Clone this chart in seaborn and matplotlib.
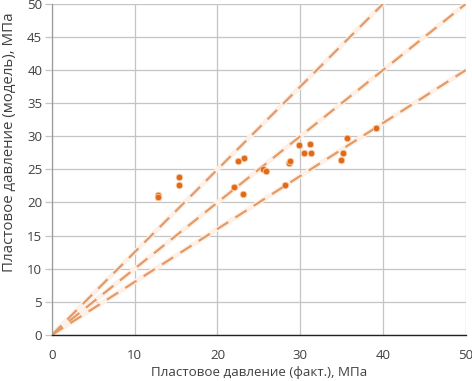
import matplotlib
matplotlib.use("Agg")
import matplotlib.pyplot as plt
import seaborn as sns
import pandas as pd
import numpy as np

# Data
fact = [12.8, 12.8, 15.4, 15.4, 22.0, 22.5, 23.2, 25.5, 25.8, 23.1, 28.1,
        28.6, 28.8, 29.8, 31.2, 30.5, 31.3, 35.6, 35.2, 34.9, 39.2]
model = [21.2, 20.8, 23.8, 22.6, 22.4, 26.2, 26.7, 25.1, 24.8, 21.3, 22.6,
         26.0, 26.2, 28.7, 28.9, 27.5, 27.5, 29.7, 27.4, 26.4, 31.3]
ref_slopes = [1.25, 1.0, 0.8]
ref_x_end = [40, 50, 50]
xticks = [0, 10, 20, 30, 40, 50]
yticks = [0, 5, 10, 15, 20, 25, 30, 35, 40, 45, 50]
xlabel = "Пластовое давление (факт.), МПа"
ylabel = "Пластовое давление (модель), МПа"

sns.set_theme(style="white")
plt.rcParams['font.family'] = ['Open Sans', 'DejaVu Sans']

fig = plt.figure(figsize=(4.72, 3.81), dpi=100)
ax = fig.add_axes([0.110, 0.121, 0.877, 0.869])

rows = []
for i, (k, xe) in enumerate(zip(ref_slopes, ref_x_end)):
    rows.append({"x": 0, "y": 0, "line": i})
    rows.append({"x": xe, "y": k * xe, "line": i})
lines_df = pd.DataFrame(rows)

# faint glow
sns.lineplot(data=lines_df, x="x", y="y", units="line", estimator=None,
             color="#FDF0E6", lw=3.5, ax=ax, legend=False)
sns.lineplot(data=lines_df, x="x", y="y", units="line", estimator=None,
             color="#E59A66", lw=1.6, ax=ax, legend=False,
             dashes=False, linestyle=(0, (6, 3.8)))

pts = pd.DataFrame({"fact": fact, "model": model})
sns.scatterplot(data=pts, x="fact", y="model", color="#E06A1A", s=22,
                edgecolor="#F7C9A3", linewidth=0.6, ax=ax, zorder=5)

ax.set_xlim(0, 50)
ax.set_ylim(0, 50)
ax.set_xticks(xticks)
ax.set_yticks(yticks)
ax.grid(True, color="#C4C4C4", lw=0.9)
ax.set_axisbelow(True)
for s in ["top", "right"]:
    ax.spines[s].set_visible(False)
ax.spines["left"].set_color("#9A9A9A")
ax.spines["left"].set_linewidth(0.9)
ax.spines["bottom"].set_color("#222222")
ax.spines["bottom"].set_linewidth(1.0)
ax.tick_params(axis="y", left=True, length=5, width=0.9, color="#C4C4C4",
               labelsize=9.5, labelcolor="#404040", pad=2)
ax.tick_params(axis="x", bottom=False, labelsize=9.5, labelcolor="#404040", pad=4)
ax.set_xlabel(xlabel, fontsize=9.6, color="#404040", labelpad=3)
ax.set_ylabel(ylabel, fontsize=10.8, color="#404040")
ax.yaxis.set_label_coords(-0.085, 0.583)

fig.savefig("out.png", dpi=100)
